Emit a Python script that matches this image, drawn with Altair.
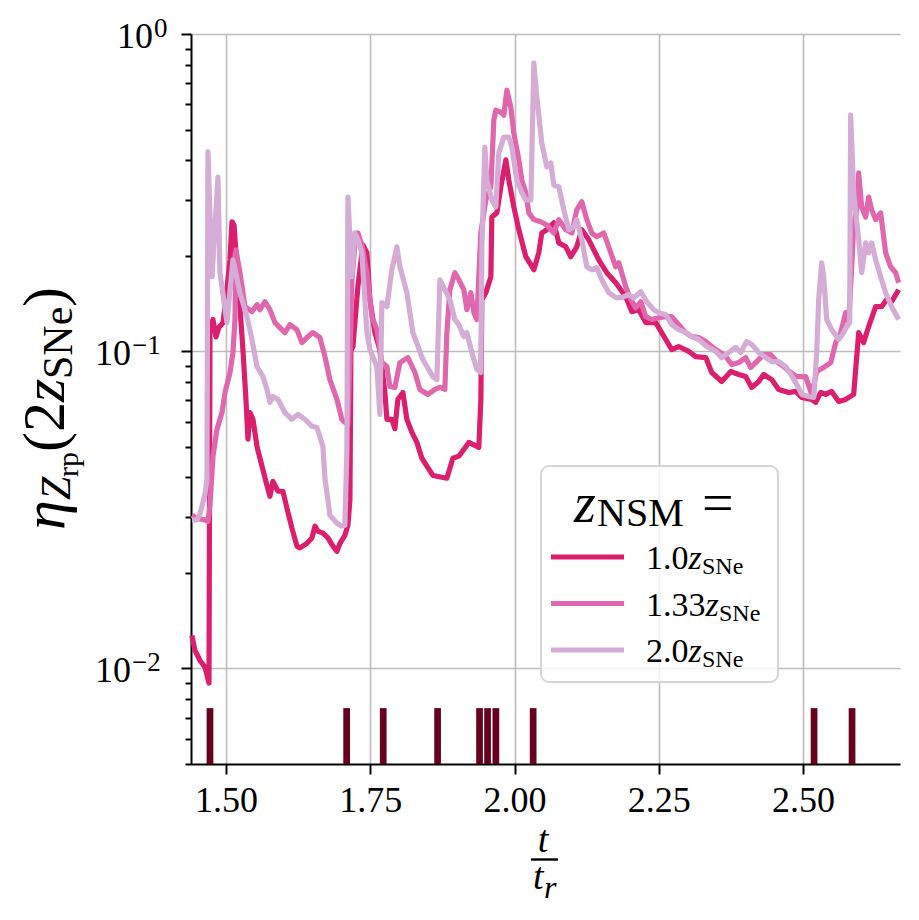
import altair as alt
import pandas as pd

# ---------------- data ----------------
labels = ["1.0", "1.33", "2.0"]
colors = ["#dc1e6e", "#e066ae", "#d4acd6"]

t_10 = [1.4410, 1.4463, 1.4550, 1.4636, 1.4706, 1.4723, 1.4775, 1.4827, 1.4879, 1.4948,
        1.5000, 1.5069, 1.5104, 1.5139, 1.5191, 1.5242, 1.5294, 1.5346, 1.5381, 1.5416,
        1.5468, 1.5537, 1.5589, 1.5710, 1.5762, 1.5814, 1.5901, 1.5987, 1.6057, 1.6143,
        1.6230, 1.6282, 1.6403, 1.6490, 1.6542, 1.6593, 1.6680, 1.6767, 1.6853, 1.6923,
        1.6975, 1.7061, 1.7113, 1.7148, 1.7165, 1.7200, 1.7286, 1.7373, 1.7442, 1.7494,
        1.7581, 1.7667, 1.7754, 1.7789, 1.7875, 1.7927, 1.7979, 1.8066, 1.8135, 1.8222,
        1.8308, 1.8395, 1.8585, 1.8828, 1.8932, 1.9036, 1.9209, 1.9382, 1.9417, 1.9434,
        1.9503, 1.9590, 1.9607, 1.9694, 1.9763, 1.9850, 1.9902, 1.9988, 2.0075, 2.0196,
        2.0335, 2.0421, 2.0473, 2.0560, 2.0681, 2.0768, 2.0889, 2.0975, 2.1079, 2.1166,
        2.1287, 2.1460, 2.1599, 2.1755, 2.1928, 2.2032, 2.2153, 2.2275, 2.2448, 2.2621,
        2.2725, 2.2846, 2.3019, 2.3140, 2.3314, 2.3418, 2.3591, 2.3747, 2.3885, 2.4006,
        2.4110, 2.4232, 2.4318, 2.4457, 2.4578, 2.4751, 2.4873, 2.4977, 2.5150, 2.5219,
        2.5306, 2.5392, 2.5496, 2.5618, 2.5739, 2.5877, 2.5964, 2.6050, 2.6137, 2.6258,
        2.6362, 2.6449, 2.6535, 2.6657]
eta_10 = [0.0127, 0.0114, 0.0106, 0.0101, 0.0090, 0.117, 0.126, 0.111, 0.119, 0.123,
          0.146, 0.194, 0.256, 0.250, 0.185, 0.138, 0.101, 0.0705, 0.0528, 0.0641,
          0.061, 0.0501, 0.046, 0.0378, 0.0349, 0.0389, 0.0362, 0.0362, 0.032, 0.0277,
          0.0243, 0.024, 0.0248, 0.0258, 0.0281, 0.0271, 0.0267, 0.0258, 0.0243, 0.0234,
          0.0248, 0.0263, 0.0283, 0.034, 0.100, 0.1035, 0.160, 0.2165, 0.2044, 0.1455,
          0.1145, 0.101, 0.0741, 0.061, 0.061, 0.057, 0.0705, 0.0741, 0.061, 0.0555,
          0.0516, 0.046, 0.0406, 0.0398, 0.046, 0.0467, 0.0516, 0.0498, 0.0705, 0.1455,
          0.153, 0.1717, 0.265, 0.273, 0.330, 0.401, 0.346, 0.285, 0.2415, 0.1986,
          0.1807, 0.2044, 0.236, 0.2415, 0.254, 0.2196, 0.2134, 0.1986, 0.2134, 0.2415,
          0.2245, 0.1942, 0.1768, 0.1644, 0.1486, 0.1333, 0.1352, 0.1231, 0.1231, 0.1089,
          0.1012, 0.1035, 0.0999, 0.0962, 0.0955, 0.0857, 0.0803, 0.0863, 0.0845, 0.0832,
          0.0769, 0.0803, 0.0845, 0.0814, 0.0758, 0.0741, 0.0747, 0.0715, 0.0705, 0.069,
          0.0741, 0.0731, 0.0747, 0.0695, 0.0705, 0.0731, 0.1145, 0.1065, 0.1196, 0.1382,
          0.1382, 0.1455, 0.1433, 0.1563]

t_133 = [1.4410, 1.4498, 1.4636, 1.4688, 1.4723, 1.4775, 1.4844, 1.4931, 1.4983, 1.5069,
         1.5121, 1.5156, 1.5173, 1.5242, 1.5329, 1.5450, 1.5537, 1.5589, 1.5675, 1.5762,
         1.5849, 1.5935, 1.6022, 1.6108, 1.6230, 1.6316, 1.6420, 1.6507, 1.6628, 1.6715,
         1.6801, 1.6923, 1.7009, 1.7061, 1.7113, 1.7148, 1.7182, 1.7234, 1.7286, 1.7355,
         1.7442, 1.7529, 1.7615, 1.7702, 1.7789, 1.7840, 1.7927, 1.8014, 1.8152, 1.8274,
         1.8360, 1.8499, 1.8620, 1.8707, 1.8793, 1.8828, 1.8880, 1.8966, 1.9036, 1.9122,
         1.9174, 1.9244, 1.9296, 1.9347, 1.9417, 1.9503, 1.9590, 1.9642, 1.9676, 1.9763,
         1.9815, 1.9867, 1.9936, 1.9988, 2.0075, 2.0127, 2.0196, 2.0248, 2.0335, 2.0456,
         2.0560, 2.0681, 2.0768, 2.0889, 2.0993, 2.1079, 2.1166, 2.1253, 2.1339, 2.1426,
         2.1547, 2.1668, 2.1755, 2.1807, 2.1928, 2.2015, 2.2101, 2.2188, 2.2275, 2.2379,
         2.2500, 2.2621, 2.2725, 2.2846, 2.2967, 2.3071, 2.3192, 2.3314, 2.3418, 2.3539,
         2.3660, 2.3764, 2.3885, 2.4006, 2.4093, 2.4197, 2.4318, 2.4440, 2.4544, 2.4665,
         2.4786, 2.4890, 2.5046, 2.5150, 2.5237, 2.5358, 2.5479, 2.5566, 2.5652, 2.5739,
         2.5791, 2.5843, 2.5877, 2.5929, 2.5964, 2.6016, 2.6085, 2.6137, 2.6189, 2.6258,
         2.6345, 2.6431, 2.6518, 2.6605, 2.6657]
eta_133 = [0.0304, 0.0297, 0.0294, 0.0291, 0.0327, 0.0467, 0.0567, 0.0641, 0.0741, 0.0857,
           0.0991, 0.1259, 0.2089, 0.1768, 0.1382, 0.1333, 0.1402, 0.1352, 0.1433, 0.1352,
           0.1231, 0.1187, 0.1145, 0.1213, 0.117, 0.1065, 0.1112, 0.1145, 0.1104, 0.0962,
           0.0814, 0.0705, 0.061, 0.0597, 0.0588, 0.0942, 0.168, 0.2165, 0.236, 0.2165,
           0.1768, 0.1285, 0.117, 0.0921, 0.0895, 0.0774, 0.0769, 0.0921, 0.0955, 0.0857,
           0.0758, 0.0731, 0.0758, 0.0769, 0.0758, 0.1145, 0.1563, 0.1768, 0.168, 0.1563,
           0.1352, 0.153, 0.1323, 0.1259, 0.236, 0.300, 0.330, 0.535, 0.575, 0.567,
           0.555, 0.665, 0.588, 0.487, 0.401, 0.346, 0.316, 0.273, 0.260, 0.256,
           0.250, 0.236, 0.260, 0.2415, 0.236, 0.279, 0.296, 0.260, 0.236, 0.2295,
           0.236, 0.2044, 0.1846, 0.190, 0.1597, 0.1455, 0.1372, 0.1433, 0.1285, 0.1259,
           0.1276, 0.1285, 0.1285, 0.1213, 0.1145, 0.1112, 0.1104, 0.1073, 0.1035, 0.0999,
           0.0962, 0.0908, 0.0921, 0.0955, 0.0889, 0.0928, 0.0976, 0.0976, 0.0928, 0.0895,
           0.0857, 0.0832, 0.0832, 0.0731, 0.0863, 0.0889, 0.0921, 0.1065, 0.1145, 0.1323,
           0.124, 0.1846, 0.247, 0.279, 0.365, 0.285, 0.265, 0.306, 0.279, 0.260,
           0.273, 0.2044, 0.1846, 0.1768, 0.1644]

t_20 = [1.4410, 1.4498, 1.4550, 1.4636, 1.4671, 1.4688, 1.4758, 1.4861, 1.4896, 1.5017,
        1.5121, 1.5242, 1.5364, 1.5450, 1.5537, 1.5641, 1.5710, 1.5762, 1.5814, 1.5901,
        1.6022, 1.6143, 1.6247, 1.6368, 1.6490, 1.6576, 1.6680, 1.6715, 1.6801, 1.6923,
        1.7009, 1.7061, 1.7096, 1.7113, 1.7182, 1.7234, 1.7286, 1.7355, 1.7442, 1.7494,
        1.7615, 1.7667, 1.7702, 1.7789, 1.7875, 1.7962, 1.8014, 1.8135, 1.8239, 1.8412,
        1.8585, 1.8655, 1.8707, 1.8793, 1.8880, 1.8966, 1.9036, 1.9122, 1.9174, 1.9261,
        1.9347, 1.9417, 1.9434, 1.9486, 1.9521, 1.9607, 1.9676, 1.9728, 1.9815, 1.9902,
        1.9954, 2.0040, 2.0127, 2.0196, 2.0283, 2.0335, 2.0387, 2.0473, 2.0560, 2.0629,
        2.0681, 2.0768, 2.0854, 2.0941, 2.1027, 2.1079, 2.1166, 2.1253, 2.1339, 2.1426,
        2.1512, 2.1634, 2.1755, 2.1859, 2.1980, 2.2067, 2.2188, 2.2292, 2.2413, 2.2500,
        2.2621, 2.2725, 2.2846, 2.2967, 2.3071, 2.3192, 2.3331, 2.3487, 2.3591, 2.3712,
        2.3833, 2.3920, 2.4024, 2.4110, 2.4232, 2.4353, 2.4457, 2.4578, 2.4700, 2.4786,
        2.4873, 2.4977, 2.5098, 2.5185, 2.5237, 2.5271, 2.5323, 2.5358, 2.5410, 2.5496,
        2.5618, 2.5704, 2.5756, 2.5808, 2.5825, 2.5877, 2.5964, 2.6016, 2.6085, 2.6137,
        2.6189, 2.6258, 2.6345, 2.6431, 2.6535, 2.6657]
eta_20 = [0.0294, 0.0294, 0.0307, 0.0354, 0.0395, 0.425, 0.1717, 0.354, 0.1768, 0.1231,
          0.1942, 0.153, 0.1285, 0.1089, 0.0895, 0.0832, 0.0758, 0.069, 0.072, 0.0705,
          0.0641, 0.061, 0.0632, 0.061, 0.058, 0.0575, 0.0501, 0.0398, 0.0304, 0.0287,
          0.0281, 0.0283, 0.0491, 0.306, 0.1717, 0.236, 0.2245, 0.2044, 0.1145, 0.1012,
          0.0895, 0.0632, 0.1423, 0.1382, 0.1807, 0.2134, 0.1846, 0.153, 0.1145, 0.0942,
          0.0832, 0.0814, 0.168, 0.1563, 0.1455, 0.1259, 0.1213, 0.1112, 0.1145, 0.0991,
          0.0876, 0.0857, 0.2089, 0.440, 0.346, 0.300, 0.285, 0.422, 0.473, 0.473,
          0.440, 0.346, 0.316, 0.300, 0.300, 0.809, 0.632, 0.453, 0.381, 0.392,
          0.334, 0.330, 0.279, 0.2415, 0.247, 0.260, 0.2245, 0.1846, 0.1807, 0.1833,
          0.168, 0.153, 0.1475, 0.1475, 0.1508, 0.1475, 0.154, 0.1433, 0.1352, 0.1323,
          0.1304, 0.1213, 0.117, 0.1145, 0.1112, 0.1089, 0.1035, 0.0999, 0.0955, 0.0991,
          0.1028, 0.0991, 0.1073, 0.105, 0.0991, 0.0955, 0.0928, 0.0928, 0.0895, 0.0845,
          0.0797, 0.0731, 0.072, 0.0715, 0.0991, 0.1455, 0.190, 0.1717, 0.1259, 0.117,
          0.1089, 0.1145, 0.1196, 0.1231, 0.555, 0.316, 0.2245, 0.1768, 0.2196, 0.2044,
          0.2196, 0.1942, 0.1717, 0.153, 0.1382, 0.1259]

event_t = [1.4723, 1.7091, 1.7725, 1.8667, 1.9394, 1.9533, 1.9677, 2.0323, 2.5191, 2.5849]
event_lo = 0.005
event_hi = 0.0075

x_ticks = [1.5, 1.75, 2.0, 2.25, 2.5]
y_major = [1.0, 0.1, 0.01]
y_exp = ["0", "\u22121", "\u22122"]
y_all_ticks = [0.005, 0.006, 0.007, 0.008, 0.009, 0.01,
               0.02, 0.03, 0.04, 0.05, 0.06, 0.07, 0.08, 0.09, 0.1,
               0.2, 0.3, 0.4, 0.5, 0.6, 0.7, 0.8, 0.9, 1.0]

# ---------------- build tables ----------------
rows = []
for lab, xs, ys in zip(labels, [t_10, t_133, t_20], [eta_10, eta_133, eta_20]):
    assert len(xs) == len(ys), lab
    for a, b in zip(xs, ys):
        rows.append({"t": a, "eta": b, "z": lab})
lines_df = pd.DataFrame(rows)
rug_df = pd.DataFrame({"t": event_t, "lo": [event_lo] * len(event_t), "hi": [event_hi] * len(event_t)})
ytick_df = pd.DataFrame({"v": y_major, "base": ["10"] * 3, "exp": y_exp})

FONT = "Liberation Serif"
W, H = 709, 730
xscale = alt.Scale(domain=[1.4394, 2.668], nice=False, zero=False)
yscale = alt.Scale(type="log", domain=[0.005, 1.0], nice=False)
major_test = "datum.value == 1 || datum.value == 0.1 || datum.value == 0.01"
LW = 5.2

lines = alt.Chart(lines_df).mark_line(strokeWidth=LW, strokeJoin="round").encode(
    x=alt.X("t:Q", scale=xscale,
            axis=alt.Axis(values=x_ticks, format=".2f", title=None, grid=True,
                          labelFont=FONT, labelFontSize=36, labelColor="black",
                          labelPadding=9, tickSize=10, tickWidth=2, tickColor="black",
                          domainColor="black", domainWidth=2,
                          gridColor="#bdbdbd", gridWidth=1.6, labelFlush=False)),
    y=alt.Y("eta:Q", scale=yscale,
            axis=alt.Axis(values=y_all_ticks, labels=False, title=None, grid=True,
                          tickSize={"condition": {"test": major_test, "value": 10}, "value": 6},
                          gridOpacity={"condition": {"test": major_test, "value": 1}, "value": 0},
                          tickWidth=2, tickColor="black", domainColor="black", domainWidth=2,
                          gridColor="#bdbdbd", gridWidth=1.6)),
    color=alt.Color("z:N", scale=alt.Scale(domain=labels, range=colors), legend=None),
)

rug = alt.Chart(rug_df).mark_rule(strokeWidth=6.7, color="#67001f").encode(
    x=alt.X("t:Q", scale=xscale),
    y=alt.Y("hi:Q", scale=yscale),
    y2="lo:Q",
)

# y tick labels 10^n
def ylab(sub, xb, size_b=36, size_e=27):
    base = alt.Chart(sub).mark_text(font=FONT, fontSize=size_b, align="right",
                                    baseline="alphabetic", dy=14, color="black").encode(
        y=alt.Y("v:Q", scale=yscale), x=alt.value(xb), text="base:N")
    exp = alt.Chart(sub).mark_text(font=FONT, fontSize=size_e, align="left",
                                   baseline="alphabetic", dy=3, color="black").encode(
        y=alt.Y("v:Q", scale=yscale), x=alt.value(xb + 1), text="exp:N")
    return [base, exp]

ylabels = ylab(ytick_df[ytick_df.v == 1.0], -38) + ylab(ytick_df[ytick_df.v < 1.0], -60)


def txt(s, x, y, size, italic=False, align="left", angle=0):
    kw = dict(font=FONT, fontSize=size, align=align, baseline="alphabetic", color="black")
    if italic:
        kw["fontStyle"] = "italic"
    if angle:
        kw["angle"] = angle
    return alt.Chart(pd.DataFrame({"s": [s]})).mark_text(**kw).encode(
        x=alt.value(x), y=alt.value(y), text="s:N")

# y-axis title  eta_{Z_rp}(2 z_SNe), rotated
ytitle = [
    txt("\u03b7", -127, 496, 60, italic=True, angle=270),
    txt("Z", -121, 466, 42, italic=True, angle=270),
    txt("rp", -113, 443, 30, angle=270),
    txt("(2", -127, 418, 60, angle=270),
    txt("z", -127, 368, 60, italic=True, angle=270),
    txt("SNe", -119, 345, 42, angle=270),
    txt(")", -127, 273, 60, angle=270),
]

# x-axis title  t / t_r
bar = alt.Chart(pd.DataFrame({"s": [0]})).mark_rule(strokeWidth=2.4, color="black").encode(
    x=alt.value(340), x2=alt.value(367), y=alt.value(825.5))
xtitle = [
    txt("t", 352, 818, 38, italic=True, align="center"),
    bar,
    txt("t", 342, 855, 38, italic=True),
    txt("r", 353, 864, 32, italic=True),
]

# legend
box = alt.Chart(pd.DataFrame({"s": [0]})).mark_rect(
    fill="white", fillOpacity=0.8, stroke="#d6d6d6", strokeWidth=2, cornerRadius=8).encode(
    x=alt.value(350), x2=alt.value(587), y=alt.value(432), y2=alt.value(648))
leg = [box,
       txt("z", 383, 488, 56, italic=True),
       txt("NSM", 406, 492, 40),
       txt("=", 511, 488, 56)]
row_y = [523, 569.5, 616]
row_base = [535, 581.7, 628.3]
num_adv = {"1.0": 42.5, "1.33": 59.5, "2.0": 42.5}
for lab, col, ly, by in zip(labels, colors, row_y, row_base):
    leg.append(alt.Chart(pd.DataFrame({"s": [lab]})).mark_rule(strokeWidth=LW, color=col).encode(
        x=alt.value(360), x2=alt.value(433), y=alt.value(ly)))
    leg.append(txt(lab, 455, by, 34))
    zx = 455 + num_adv[lab]
    leg.append(txt("z", zx, by, 34, italic=True))
    leg.append(txt("SNe", zx + 13.5, by + 5, 24))

chart = alt.layer(lines, rug, *ylabels, *ytitle, *xtitle, *leg).properties(
    width=W, height=H,
    autosize=alt.AutoSizeParams(type="none"),
    padding={"left": 183, "top": 26, "right": 11, "bottom": 144},
).configure_view(stroke="transparent").configure_axis(labelFont=FONT)

chart.save("out.html", embed_options={"renderer": "svg", "actions": False})
